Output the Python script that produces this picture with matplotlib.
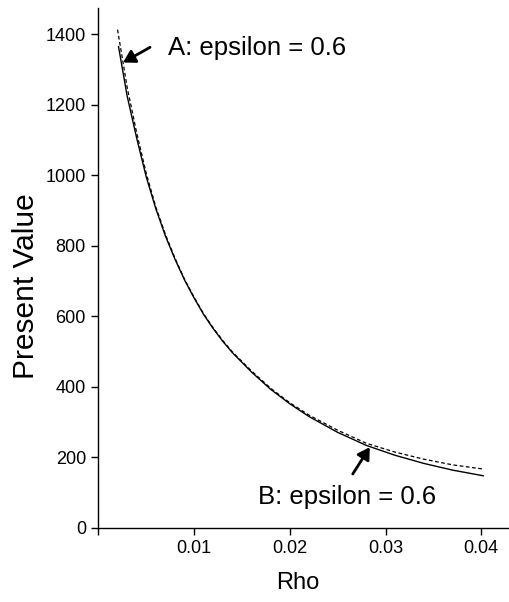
import matplotlib
matplotlib.use("Agg")
from matplotlib import pyplot as plt

plt.rcParams['font.family'] = ['Liberation Sans', 'DejaVu Sans']

# values
rho_solid = [0.0021, 0.003, 0.004, 0.005, 0.006, 0.007, 0.008, 0.009, 0.010, 0.011,
             0.012, 0.013, 0.014, 0.016, 0.018, 0.020, 0.022, 0.025, 0.028, 0.031,
             0.034, 0.037, 0.0402]
pv_solid = [1365, 1225, 1105, 995, 905, 828, 762, 703, 652, 605,
            565, 529, 497, 442, 393, 352, 316, 271, 234, 206,
            183, 164, 148]

rho_dashed = [0.002, 0.003, 0.004, 0.005, 0.006, 0.007, 0.008, 0.009, 0.010, 0.011,
              0.012, 0.013, 0.014, 0.016, 0.018, 0.020, 0.022, 0.025, 0.028, 0.031,
              0.034, 0.037, 0.0402]
pv_dashed = [1413, 1250, 1120, 1005, 910, 832, 765, 705, 654, 607,
             567, 531, 499, 445, 396, 355, 320, 277, 240, 215,
             195, 179, 167]

y_ticks = [0, 200, 400, 600, 800, 1000, 1200, 1400]
x_ticks = [0, 0.01, 0.02, 0.03, 0.04]
x_ticklabels = ['', '0.01', '0.02', '0.03', '0.04']

fig = plt.figure(figsize=(5.1, 6.02), dpi=100)
ax = fig.add_axes([0.193, 0.123, 0.807, 0.864])

ax.plot(rho_solid, pv_solid, '-', color='black', lw=1.0)
ax.plot(rho_dashed, pv_dashed, color='black', lw=0.9, linestyle=(0, (3, 2)))

ax.set_xlim(0, 0.043)
ax.set_ylim(0, 1475)
ax.set_xticks(x_ticks)
ax.set_xticklabels(x_ticklabels)
ax.set_yticks(y_ticks)

for s in ['top', 'right']:
    ax.spines[s].set_visible(False)
for s in ['left', 'bottom']:
    ax.spines[s].set_linewidth(1.0)

ax.tick_params(direction='out', length=5, width=1.0, labelsize=13, pad=4)

ax.set_xlabel('Rho', fontsize=17, va='top')
ax.xaxis.set_label_coords(0.484, -0.085)
ax.set_ylabel('Present Value', fontsize=21.5)
ax.yaxis.set_label_coords(-0.143, 0.465)

arrow = dict(arrowstyle='-|>,head_length=0.5,head_width=0.3', lw=2, color='black',
             shrinkA=0, shrinkB=0, mutation_scale=14)
ax.annotate('', xy=(0.00258, 1320), xytext=(0.00539, 1363), arrowprops=arrow)
ax.annotate('', xy=(0.02835, 229), xytext=(0.02657, 153), arrowprops=arrow)

ax.text(0.00724, 1340, 'A: epsilon = 0.6', fontsize=18.5, ha='left', va='baseline')
ax.text(0.01663, 68, 'B: epsilon = 0.6', fontsize=18.5, ha='left', va='baseline')

fig.savefig('out.png', dpi=100)
